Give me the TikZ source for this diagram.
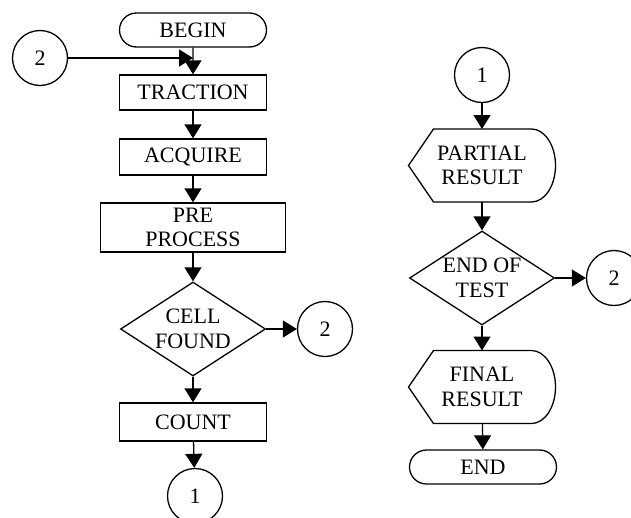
\documentclass[tikz,border=0pt]{standalone}
\usepackage{fontspec}
\setmainfont{Liberation Serif}
\usetikzlibrary{shapes,arrows.meta}

% outline of a display box: pointed left side, round right side
\newcommand{\displayframe}[1]{%
	\draw (#1.west) -- ([xshift=25pt]#1.north west) -- ([xshift=-24pt]#1.north east)
		arc[start angle=90, end angle=-90, x radius=24pt, y radius=36.5pt]
		-- ([xshift=25pt]#1.south west) -- cycle;}

\begin{document}
\begin{tikzpicture}[x=1pt, y=-1pt, line width=1.3pt, font=\fontsize{22}{24.5}\selectfont]
\tikzset{
	term node/.style = {rounded rectangle, draw, minimum width = 147, minimum height = 34, inner sep = 0},
	process node/.style = {rectangle, draw, minimum width = 147, minimum height = 36, inner sep = 0, align = center},
	decision node/.style = {diamond, draw, aspect = 1.5, minimum width = 145, minimum height = 94, inner sep = 0, align = center},
	display node/.style = {rectangle, minimum width = 147, minimum height = 73, inner sep = 0, outer sep = 0, align = center},
	connector node/.style = {circle, draw, minimum size = 55, inner sep = 0},
	flow/.style = {-{Triangle[length = 14pt, width = 17pt]}}
}
\clip (0,0) rectangle (631,517);

% left column
\node[term node] (begin) at (193,30) {BEGIN};
\node[process node, minimum height = 35] (trac) at (193,92.5) {TRACTION};
\node[process node] (acq) at (193,157) {ACQUIRE};
\node[process node, minimum width = 185, minimum height = 49] (pre) at (193,227.5) {PRE\\PROCESS};
\node[decision node] (cell) at (193,329) {CELL\\FOUND};
\node[connector node] (gotwo) at (325,329) {2};
\node[process node, minimum height = 38] (count) at (193,422) {COUNT};
\node[connector node] (goone) at (195,496) {1};
\node[connector node] (fromtwo) at (40,58) {2};
\coordinate (merge) at (193,58);

\draw[flow] (fromtwo) -- (merge);
\draw[flow] (begin) -- (trac);
\draw[flow] (trac) -- (acq);
\draw[flow] (acq) -- (pre);
\draw[flow] (pre) -- (cell);
\draw[flow] (cell) -- (gotwo);
\draw[flow] (cell) -- (count);
\draw[flow] (count) -- (goone);

% right column
\node[connector node] (fromone) at (482,75) {1};
\node[display node] (part) at (482,165.5) {PARTIAL\\RESULT};
\displayframe{part}
\node[decision node] (test) at (482,278) {END OF\\TEST};
\node[connector node] (totwo) at (614,278) {2};
\node[display node] (final) at (482,387) {FINAL\\RESULT};
\displayframe{final}
\node[term node] (end) at (483,467) {END};

\draw[flow] (fromone) -- (part);
\draw[flow] (part) -- (test);
\draw[flow] (test) -- (totwo);
\draw[flow] (test) -- (final);
\draw[flow] (final) -- (end);
\end{tikzpicture}
\end{document}
